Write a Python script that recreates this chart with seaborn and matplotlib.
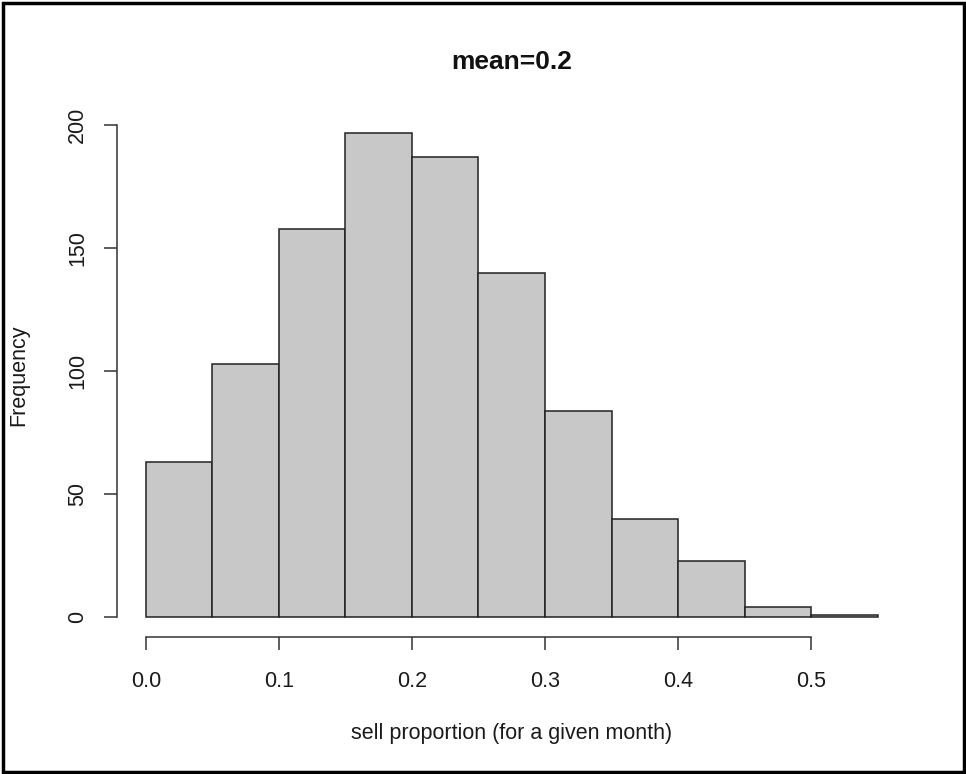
import matplotlib
matplotlib.use("Agg")
import matplotlib.pyplot as plt
import seaborn as sns
import numpy as np
from matplotlib.patches import Rectangle

# Histogram bins (sell proportion) and their frequencies
bin_edges = [0.0, 0.05, 0.10, 0.15, 0.20, 0.25, 0.30, 0.35, 0.40, 0.45, 0.50, 0.55]
frequencies = [63, 103, 158, 197, 187, 140, 84, 40, 23, 4, 1]
x_ticks = [0.0, 0.1, 0.2, 0.3, 0.4, 0.5]
x_tick_labels = ["0.0", "0.1", "0.2", "0.3", "0.4", "0.5"]
y_ticks = [0, 50, 100, 150, 200]

title = "mean=0.2"
x_label = "sell proportion (for a given month)"
y_label = "Frequency"

sns.set_style("white")
plt.rcParams["font.family"] = ["Liberation Sans", "DejaVu Sans"]

W, H = 966, 774
fig = plt.figure(figsize=(W / 100, H / 100), dpi=100)

# plot region in pixel coordinates
left_px, right_px, top_px, bottom_px = 116.7, 906.8, 113.3, 636.7
ax = fig.add_axes([left_px / W, 1 - bottom_px / H,
                   (right_px - left_px) / W, (bottom_px - top_px) / H])

centers = [(a + b) / 2 for a, b in zip(bin_edges[:-1], bin_edges[1:])]
sns.histplot(x=centers, weights=frequencies, bins=bin_edges, ax=ax,
             color="#c8c8c8", edgecolor="#222222", linewidth=1.1, alpha=1.0)

span_x = bin_edges[-1] - bin_edges[0]
ax.set_xlim(bin_edges[0] - 0.04 * span_x, bin_edges[-1] + 0.04 * span_x)
ymax = max(frequencies)
ax.set_ylim(-0.04 * ymax, ymax * 1.04)

for s in ["top", "right"]:
    ax.spines[s].set_visible(False)
ax.spines["left"].set_bounds(y_ticks[0], y_ticks[-1])
ax.spines["bottom"].set_bounds(x_ticks[0], x_ticks[-1])
for s in ["left", "bottom"]:
    ax.spines[s].set_color("#333333")
    ax.spines[s].set_linewidth(1.1)

ax.set_xticks(x_ticks)
ax.set_xticklabels(x_tick_labels)
ax.set_yticks(y_ticks)
ax.set_yticklabels([str(v) for v in y_ticks], rotation=90, va="center")
ax.tick_params(axis="both", direction="out", length=9.5, width=1.1,
               color="#333333", labelsize=15.5, labelcolor="#1a1a1a",
               bottom=True, left=True)
ax.tick_params(axis="x", pad=15)
ax.tick_params(axis="y", pad=11)
ax.set_xlabel("")
ax.set_ylabel("")

cx = (left_px + right_px) / 2 / W
fig.text(cx, 1 - 61.7 / H, title, ha="center", va="center",
         fontsize=19, fontweight="bold", color="#111111")
fig.text(cx, 1 - 733 / H, x_label, ha="center", va="center",
         fontsize=15.5, color="#1a1a1a")
fig.text(19 / W, 1 - 375 / H, y_label, ha="center", va="center",
         rotation=90, fontsize=15.5, color="#1a1a1a")

# outer frame around the whole figure
fig.patches.append(Rectangle((2.5 / W, 2.5 / H), (W - 5) / W, (H - 5) / H,
                             transform=fig.transFigure, fill=False,
                             edgecolor="black", linewidth=2.5, zorder=10))

fig.savefig("out.png", dpi=100)
